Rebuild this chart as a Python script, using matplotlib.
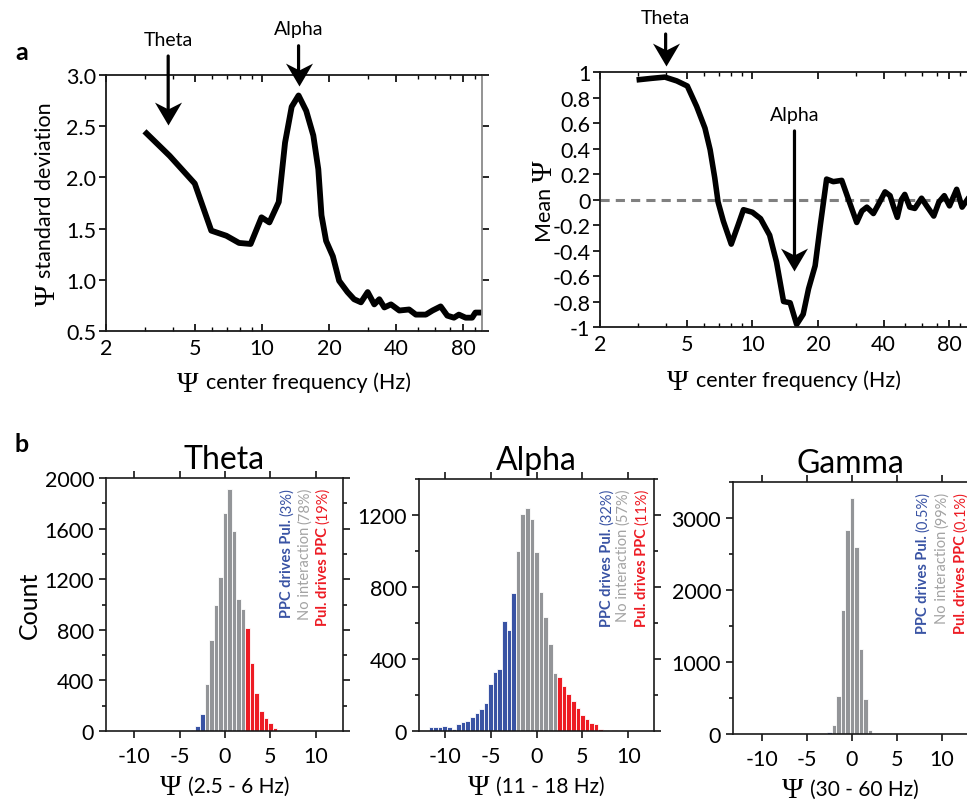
import matplotlib
matplotlib.use("Agg")
import matplotlib.pyplot as plt
import matplotlib.transforms as mtransforms
from matplotlib.path import Path
from matplotlib.ticker import FixedLocator, FixedFormatter, LogLocator, NullFormatter, MultipleLocator
import numpy as np

plt.rcParams["font.family"] = ["Lato", "DejaVu Sans"]
plt.rcParams["axes.unicode_minus"] = False

# panel a, left: psi standard deviation vs centre frequency
sd_freq = [3.04, 3.86, 5.0, 5.93, 6.93, 7.9, 8.9, 9.96, 10.8, 11.9, 12.7, 13.6, 14.6,
           15.8, 17.0, 17.9, 18.5, 19.4, 20.8, 22.2, 24.2, 25.9, 27.8, 29.8, 31.9,
           33.6, 35.4, 37.9, 41.3, 45.7, 49.0, 54.3, 58.2, 63.3, 67.8, 72.6, 76.4,
           81.9, 87.6, 90.6, 93.8]
sd_vals = [2.43, 2.21, 1.94, 1.48, 1.43, 1.36, 1.35, 1.61, 1.56, 1.76, 2.34, 2.69, 2.80,
           2.65, 2.41, 2.08, 1.63, 1.38, 1.23, 0.99, 0.88, 0.81, 0.78, 0.88, 0.76,
           0.81, 0.73, 0.76, 0.70, 0.71, 0.66, 0.66, 0.70, 0.74, 0.65, 0.63, 0.66,
           0.63, 0.63, 0.68, 0.68]

# panel a, right: mean psi vs centre frequency
mean_freq = [3.03, 3.44, 3.97, 4.5, 5.03, 5.55, 6.06, 6.4, 6.72, 6.96, 7.36, 8.0, 8.6,
             9.1, 10.0, 10.9, 12.0, 12.9, 13.9, 14.9, 15.96, 17.1, 18.1, 19.4, 20.5,
             21.9, 23.5, 25.7, 27.6, 30.1, 31.8, 33.5, 35.9, 37.8, 40.6, 42.8, 44.3,
             46.2, 48.3, 50.0, 52.7, 55.6, 59.7, 63.0, 67.9, 71.7, 75.9, 80.2, 86.5,
             91.6, 96.9]
mean_vals = [0.94, 0.95, 0.96, 0.93, 0.89, 0.73, 0.56, 0.39, 0.17, -0.02, -0.17, -0.35,
             -0.20, -0.08, -0.10, -0.15, -0.28, -0.49, -0.80, -0.81, -0.98, -0.90, -0.70,
             -0.52, -0.20, 0.16, 0.14, 0.15, 0.00, -0.18, -0.09, -0.06, -0.11, -0.04,
             0.06, 0.03, -0.05, -0.14, 0.00, 0.04, -0.06, -0.07, 0.01, -0.05, -0.13,
             -0.02, 0.03, -0.05, 0.08, -0.06, 0.00]

freq_ticks = [2, 5, 10, 20, 40, 80]
mean_ticks = [-1, -0.8, -0.6, -0.4, -0.2, 0, 0.2, 0.4, 0.6, 0.8, 1]
mean_tick_labels = ["-1", "-0.8", "-0.6", "-0.4", "-0.2", "0", "0.2", "0.4", "0.6", "0.8", "1"]

# panel b: histograms of psi, bin width 0.5, first bin centre given
bin_width = 0.5
theta_first = -4.5
theta_counts = [1, 2, 5, 40, 132, 370, 720, 1000, 1215, 1725, 1910, 1580, 1040, 962,
                811, 541, 299, 158, 100, 66, 26, 5]
alpha_first = -11.5
alpha_counts = [24, 22, 24, 28, 22, 13, 37, 50, 56, 78, 102, 124, 157, 259, 330, 343,
                609, 561, 767, 1002, 1204, 1239, 1180, 996, 772, 633, 483, 324, 300,
                250, 204, 167, 128, 91, 69, 46, 37, 13, 3, 2, 3]
gamma_first = -2.5
gamma_counts = [23, 125, 523, 1727, 2838, 3282, 2597, 1180, 486, 60]
threshold = 2.25

hist_titles = ["Theta", "Alpha", "Gamma"]
hist_xlabels = ["(2.5 - 6 Hz)", "(11 - 18 Hz)", "(30 - 60 Hz)"]
hist_pcts = [("3%", "78%", "19%"), ("32%", "57%", "11%"), ("0.5%", "99%", "0.1%")]

BLUE = "#3953a4"
GRAY = "#939598"
RED = "#ed1c24"
TXTGRAY = "#a3a3a3"

W, H = 967, 803
fig = plt.figure(figsize=(W / 100, H / 100), dpi=100)
renderer = fig.canvas.get_renderer()


def px_axes(l, t, r, b):
    return fig.add_axes([l / W, 1 - b / H, (r - l) / W, (b - t) / H])


def multi_text(ax, x, y, parts, rotation=0, align="center", va="baseline", gap=5):
    # parts: (string, text kwargs, downward baseline shift in px)
    texts = [ax.text(x, y, s, rotation=rotation, rotation_mode="anchor", ha="left",
                     va=va, transform=ax.transAxes, clip_on=False, **kw)
             for s, kw, _ in parts]
    widths = []
    for t in texts:
        bb = t.get_window_extent(renderer)
        widths.append(bb.height if rotation else bb.width)
    total = sum(widths) + gap * (len(widths) - 1)
    pos = {"left": 0, "center": -total / 2, "right": -total}[align]
    for t, w, (_, _, sh) in zip(texts, widths, parts):
        dx, dy = (sh, pos) if rotation else (pos, -sh)
        t.set_transform(mtransforms.offset_copy(ax.transAxes, fig=fig, x=dx, y=dy, units="dots"))
        pos += w + gap


PSI = {"family": "Liberation Serif", "fontsize": 21}

# downward "stealth" arrow head, tip at the origin
HEAD = Path([(0, 0), (-0.59, 1.0), (0, 0.7), (0.59, 1.0), (0, 0)],
            [Path.MOVETO, Path.LINETO, Path.LINETO, Path.LINETO, Path.CLOSEPOLY])


def down_arrow(ax, label, x, y_tip, y_text):
    ax.annotate(label, xy=(x, y_tip), xytext=(x, y_text), ha="center", va="center",
                fontsize=14, annotation_clip=False,
                arrowprops=dict(arrowstyle="-", lw=2.3, color="k", shrinkA=4, shrinkB=8))
    ax.plot([x], [y_tip], marker=HEAD, markersize=33, color="k", mew=0, clip_on=False,
            zorder=5)


def style_axes(ax, lw=1.3):
    for s in ax.spines.values():
        s.set_linewidth(lw)
        s.set_color("#1a1a1a")


def freq_axis(ax, label_y):
    ax.set_xscale("log")
    ax.set_xlim(2, 97)
    ax.xaxis.set_major_locator(FixedLocator(freq_ticks))
    ax.xaxis.set_major_formatter(FixedFormatter([str(t) for t in freq_ticks]))
    ax.xaxis.set_minor_locator(LogLocator(base=10, subs=np.arange(2, 10)))
    ax.xaxis.set_minor_formatter(NullFormatter())
    ax.tick_params(axis="x", which="both", direction="in", top=True, labelsize=15.5, pad=5)
    ax.tick_params(axis="x", which="major", length=5, width=1.2)
    ax.tick_params(axis="x", which="minor", length=3, width=1.0)
    ax.tick_params(axis="y", which="both", direction="out", right=True, labelsize=15.5,
                   length=5, width=1.2, pad=2)
    multi_text(ax, 0.5, label_y, [("Ψ", PSI, 3), ("center frequency (Hz)", {"fontsize": 15.5}, 0)],
               gap=7)


# ---- panel a left
ax1 = px_axes(106, 76, 482, 332)
style_axes(ax1)
ax1.plot(sd_freq, sd_vals, color="k", lw=4.2, solid_joinstyle="round")
freq_axis(ax1, -0.222)
ax1.set_ylim(0.5, 3.0)
ax1.set_yticks([0.5, 1.0, 1.5, 2.0, 2.5, 3.0])
ax1.set_yticklabels(["0.5", "1.0", "1.5", "2.0", "2.5", "3.0"])
ax1.spines["right"].set_color("#8a8a8a")
multi_text(ax1, -0.145, 0.5, [("Ψ", PSI, 3), ("standard deviation", {"fontsize": 15.5}, 0)],
           rotation=90, gap=7)
down_arrow(ax1, "Theta", 3.8, 2.51, 3.35)
down_arrow(ax1, "Alpha", 14.6, 2.89, 3.45)

# ---- panel a right
ax2 = px_axes(600, 73, 968, 328)
style_axes(ax2)
ax2.axhline(0, color="#808080", lw=2.2, ls=(0, (3, 2)), zorder=1)
ax2.plot(mean_freq, mean_vals, color="k", lw=4.0, solid_joinstyle="round", zorder=2)
freq_axis(ax2, -0.232)
ax2.set_xlim(2, 97.5)
ax2.set_ylim(-1, 1)
ax2.set_yticks(mean_ticks)
ax2.set_yticklabels(mean_tick_labels)
multi_text(ax2, -0.138, 0.5, [("Mean", {"fontsize": 15.5}, 0), ("Ψ", PSI, 3)], rotation=90, gap=4)
down_arrow(ax2, "Theta", 4.0, 1.05, 1.43)
down_arrow(ax2, "Alpha", 15.6, -0.557, 0.67)

fig.text(15 / W, 1 - 53 / H, "a", fontsize=18, fontweight="bold", va="center")
fig.text(15 / W, 1 - 445 / H, "b", fontsize=18, fontweight="bold", va="center")

# ---- panel b histograms
hist_boxes = [(106, 479, 343, 732), (419, 480, 654, 732), (733, 483, 968, 735)]
hist_firsts = [theta_first, alpha_first, gamma_first]
hist_counts = [theta_counts, alpha_counts, gamma_counts]
hist_ylims = [2000, 1400, 3500]
hist_major = [400, 400, 1000]
hist_minor = [200, 200, 500]
hist_xlims = [(-13.1, 13.0), (-12.8, 12.8), (-13.2, 12.9)]
pct_x = [(0.764, 0.84, 0.916), (0.80, 0.868, 0.95), (0.81, 0.89, 0.97)]

for i in range(3):
    ax = px_axes(*hist_boxes[i])
    style_axes(ax, 1.2)
    counts = np.array(hist_counts[i])
    centers = hist_firsts[i] + bin_width * np.arange(len(counts))
    colors = [BLUE if c < -threshold else (RED if c > threshold else GRAY) for c in centers]
    ax.bar(centers, counts, width=bin_width, color=colors, edgecolor="white", linewidth=0.6)
    ax.set_xlim(*hist_xlims[i])
    ax.set_ylim(0, hist_ylims[i])
    ax.set_xticks([-10, -5, 0, 5, 10])
    ax.set_xticklabels(["-10", "-5", "0", "5", "10"])
    ax.yaxis.set_major_locator(MultipleLocator(hist_major[i]))
    ax.yaxis.set_minor_locator(MultipleLocator(hist_minor[i]))
    ax.tick_params(which="both", direction="out", top=True, right=True, labelsize=15.5,
                   width=1.1)
    ax.tick_params(which="major", length=5)
    ax.tick_params(which="minor", length=3)
    ax.tick_params(axis="x", pad=6)
    ax.set_title(hist_titles[i], fontsize=23, pad=7)
    if i == 0:
        ax.set_ylabel("Count", fontsize=18)
        ax.yaxis.set_label_coords(-0.275, 0.5)
    multi_text(ax, 0.5, -0.242, [("Ψ", PSI, 2), (hist_xlabels[i], {"fontsize": 15}, 0)], gap=7)
    p_blue, p_gray, p_red = hist_pcts[i]
    col_specs = [
        (pct_x[i][0], [("PPC drives Pul.", {"color": BLUE, "fontweight": "bold"}),
                       (f"({p_blue})", {"color": BLUE})]),
        (pct_x[i][1], [("No interaction", {"color": TXTGRAY}),
                       (f"({p_gray})", {"color": TXTGRAY})]),
        (pct_x[i][2], [("Pul. drives PPC", {"color": RED, "fontweight": "bold"}),
                       (f"({p_red})", {"color": RED})]),
    ]
    for cx, parts in col_specs:
        parts = [(s, dict(kw, fontsize=10.5), 0) for s, kw in parts]
        multi_text(ax, cx, 0.965, parts, rotation=90, align="right", va="center", gap=3)

fig.savefig("out.png", dpi=100)
